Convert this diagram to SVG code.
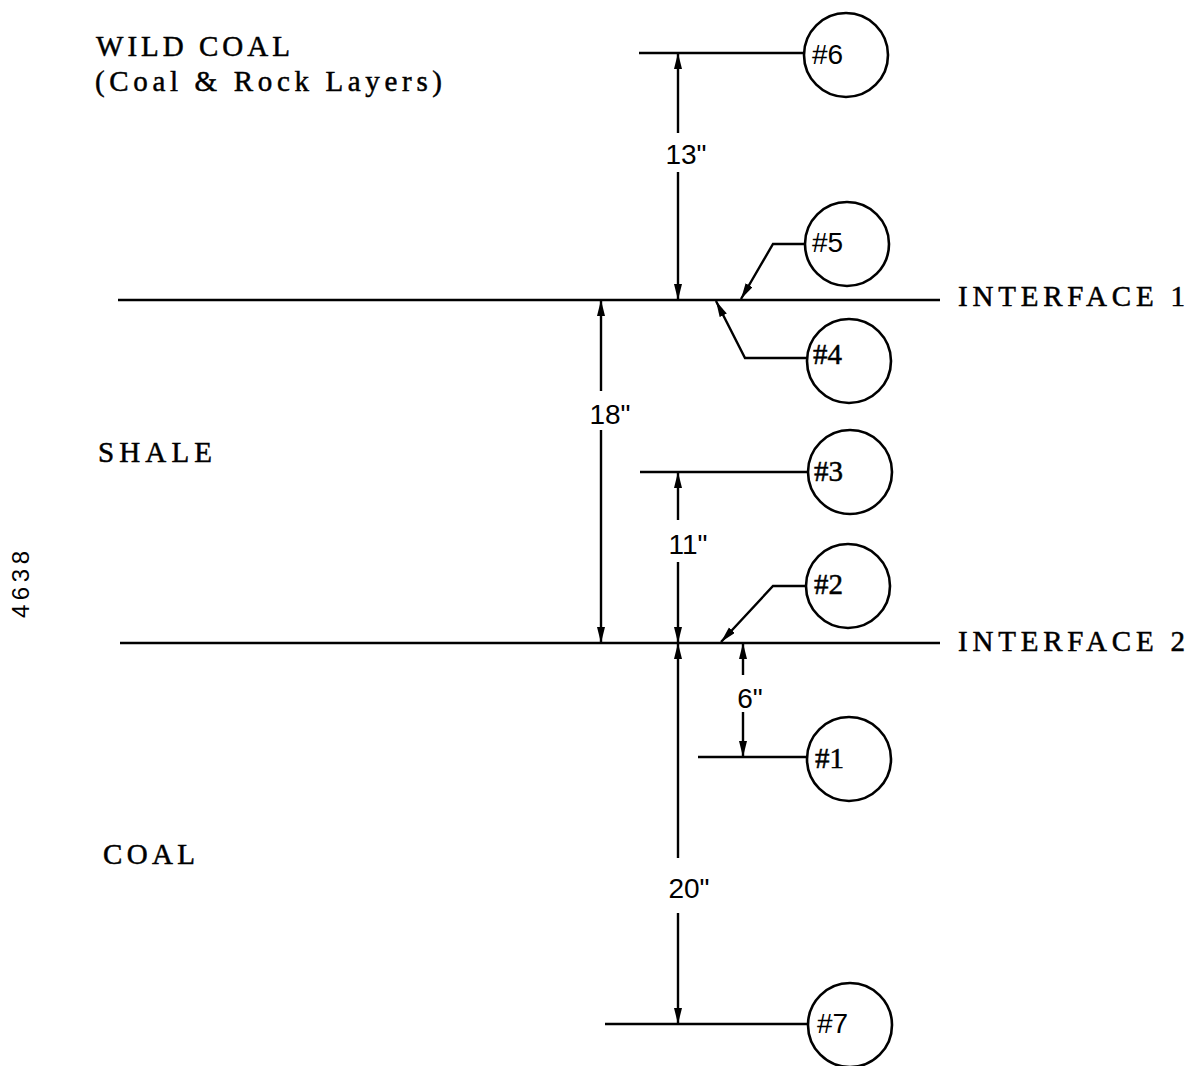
<svg xmlns="http://www.w3.org/2000/svg" width="1194" height="1066" viewBox="0 0 1194 1066">
<style>
  .ln { stroke:#000; stroke-width:2.4; fill:none; }
  .node circle { fill:#fff; stroke:#000; stroke-width:2.6; }
  .ns { font-family:"Liberation Sans","DejaVu Sans",sans-serif; font-size:28px; fill:#000; }
  .nt { font-family:"Liberation Serif","DejaVu Serif",serif; font-size:29px; fill:#000; stroke:#000; stroke-width:0.5; }
  .tw { font-family:"Liberation Serif","DejaVu Serif",serif; font-size:29px; fill:#000; stroke:#000; stroke-width:0.5; }
  .dim { font-family:"Liberation Sans","DejaVu Sans",sans-serif; font-size:28px; fill:#000; text-anchor:middle; }
</style>
<defs>
  <marker id="ah" markerUnits="userSpaceOnUse" markerWidth="18" markerHeight="10" refX="16" refY="4" orient="auto">
    <path d="M0,0 L16,4 L0,8 z" fill="#000"/>
  </marker>
</defs>
<rect width="1194" height="1066" fill="#fff"/>

<g id="layers">
  <line class="ln" x1="118" y1="300" x2="940" y2="300"/>
  <line class="ln" x1="120" y1="643" x2="940" y2="643"/>
  <text class="tw" x="96" y="56" textLength="194" lengthAdjust="spacing">WILD COAL</text>
  <text class="tw" x="95" y="91" textLength="347" lengthAdjust="spacing">(Coal &amp; Rock Layers)</text>
  <text class="tw" x="98" y="462" textLength="114" lengthAdjust="spacing">SHALE</text>
  <text class="tw" x="103" y="864" textLength="92" lengthAdjust="spacing">COAL</text>
  <text class="tw" x="958" y="306" textLength="227" lengthAdjust="spacing">INTERFACE 1</text>
  <text class="tw" x="958" y="651" textLength="227" lengthAdjust="spacing">INTERFACE 2</text>
  <text font-family="'Liberation Sans', 'DejaVu Sans', sans-serif" font-size="24" fill="#000" transform="translate(29,618) rotate(-90)" textLength="67" lengthAdjust="spacing">4638</text>
</g>

<g id="connectors">
  <line class="ln" x1="678" y1="133" x2="678" y2="53" marker-end="url(#ah)"/>
  <line class="ln" x1="678" y1="172" x2="678" y2="300" marker-end="url(#ah)"/>
  <text class="dim" x="686" y="164">13"</text>

  <line class="ln" x1="601" y1="391" x2="601" y2="300" marker-end="url(#ah)"/>
  <line class="ln" x1="601" y1="430" x2="601" y2="643" marker-end="url(#ah)"/>
  <text class="dim" x="610" y="424">18"</text>

  <line class="ln" x1="678" y1="520" x2="678" y2="472" marker-end="url(#ah)"/>
  <line class="ln" x1="678" y1="562" x2="678" y2="643" marker-end="url(#ah)"/>
  <text class="dim" x="688" y="554">11"</text>

  <line class="ln" x1="678" y1="858" x2="678" y2="643" marker-end="url(#ah)"/>
  <line class="ln" x1="678" y1="913" x2="678" y2="1024" marker-end="url(#ah)"/>
  <text class="dim" x="689" y="898">20"</text>

  <line class="ln" x1="743" y1="675" x2="743" y2="643" marker-end="url(#ah)"/>
  <line class="ln" x1="743" y1="712" x2="743" y2="757" marker-end="url(#ah)"/>
  <text class="dim" x="750" y="708">6"</text>

  <line class="ln" x1="639" y1="53" x2="804" y2="53"/>
  <polyline class="ln" points="804,244 773,244 741,299" marker-end="url(#ah)"/>
  <polyline class="ln" points="807,358 745,358 716,301" marker-end="url(#ah)"/>
  <line class="ln" x1="640" y1="472" x2="809" y2="472"/>
  <polyline class="ln" points="807,586 773,586 721,642" marker-end="url(#ah)"/>
  <line class="ln" x1="698" y1="757" x2="807" y2="757"/>
  <line class="ln" x1="605" y1="1024" x2="808" y2="1024"/>
</g>

<g id="node6" class="node"><circle cx="846" cy="55" r="42"/><text class="ns" x="812" y="64">#6</text></g>
<g id="node5" class="node"><circle cx="847" cy="244" r="42"/><text class="ns" x="812" y="252">#5</text></g>
<g id="node4" class="node"><circle cx="849" cy="361" r="42"/><text class="nt" x="813" y="364">#4</text></g>
<g id="node3" class="node"><circle cx="850" cy="472" r="42"/><text class="nt" x="814" y="481">#3</text></g>
<g id="node2" class="node"><circle cx="848" cy="586" r="42"/><text class="nt" x="814" y="594">#2</text></g>
<g id="node1" class="node"><circle cx="849" cy="759" r="42"/><text class="nt" x="815" y="768">#1</text></g>
<g id="node7" class="node"><circle cx="850" cy="1025" r="42"/><text class="ns" x="817" y="1033">#7</text></g>
</svg>
